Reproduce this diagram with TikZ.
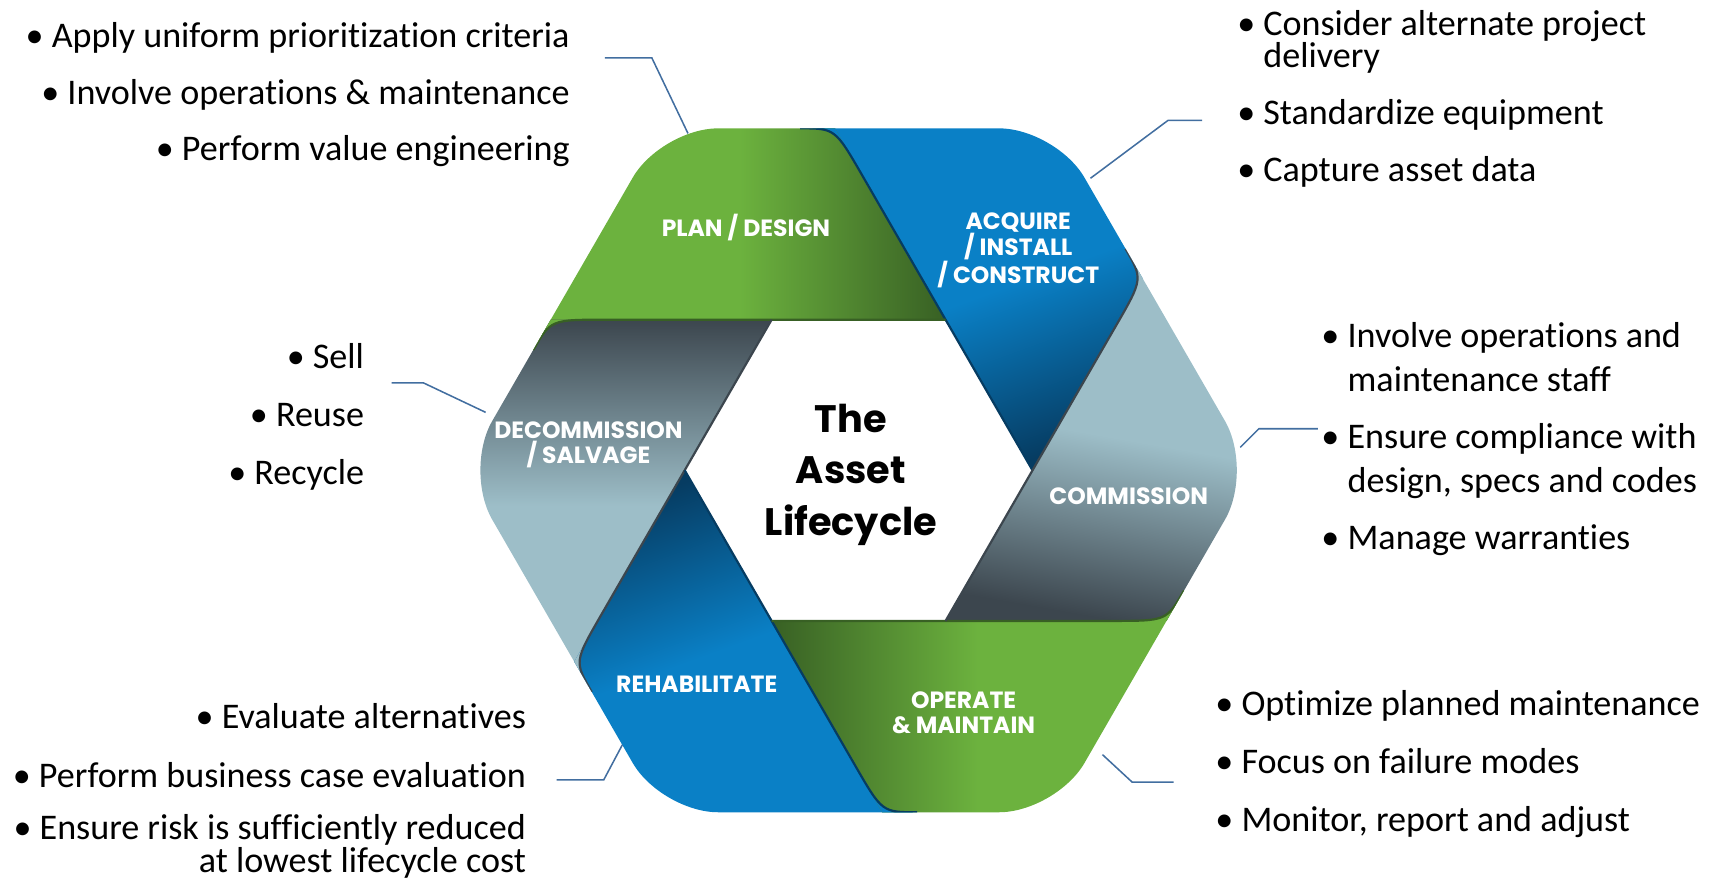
\documentclass[tikz,border=0pt]{standalone}
\usepackage{fontspec}
\setmainfont{Carlito}[Ligatures=NoCommon]
\newfontfamily\segfont{Poppins}
\usetikzlibrary{calc,positioning}
\tikzset{>=latex}
\definecolor{grnL}{RGB}{108,178,62}
\definecolor{grnD}{RGB}{56,96,36}
\definecolor{bluL}{RGB}{10,128,198}
\definecolor{bluD}{RGB}{6,60,98}
\definecolor{gryL}{RGB}{157,190,200}
\definecolor{gryD}{RGB}{60,70,78}
\definecolor{leadblue}{RGB}{66,110,160}
\tikzset{
  bullets/.style={inner sep=0pt, font=\fontsize{33}{40}\selectfont},
  seglabel/.style={text=white, align=center, inner sep=0pt, font=\segfont\bfseries\fontsize{21.5}{23}\selectfont},
  leader/.style={draw=leadblue, line width=1.4pt},
}

\begin{document}
\begin{tikzpicture}[x=1pt,y=1pt]
      \def\R{361}  % outer radius of hexagon
      \def\r{159}  % inner radius
      \pgfmathsetmacro\fr{(\R-\r)/\R}
      \useasboundingbox (0,0) rectangle (1568,805);
      \coordinate (C) at (785,375);
      \foreach \k in {0,...,5} {%
        \coordinate (O\k) at ($(C)+(60*\k:\R)$);
        \coordinate (I\k) at ($(C)+(60*\k:\r)$);
      }
      \foreach \k in {0,...,5} {%
        \pgfmathtruncatemacro\kn{mod(\k+1,6)}
        \coordinate (P\k) at ($(O\k)!\fr!(O\kn)$);
      }
      % ends of the fold where a ribbon laps over the next one
      \foreach \k in {0,...,5} {%
        \pgfmathtruncatemacro\kn{mod(\k+1,6)}
        \pgfmathtruncatemacro\kk{mod(\k+2,6)}
        \coordinate (A\k) at ($(P\kn)!50pt!(I\kn)$);
        \coordinate (B\k) at ($(P\kn)!32pt!(O\kk)$);
      }
      % the six ribbons
      \begin{scope}
        \clip[rounded corners=52pt] (O0) -- (O1) -- (O2) -- (O3) -- (O4) -- (O5) -- cycle;
        \foreach \k/\lc/\dc/\ang in {0/bluL/bluD/-160, 1/grnL/grnD/-90, 2/gryL/gryD/0, 3/bluL/bluD/20, 4/grnL/grnD/90, 5/gryL/gryD/170} {%
          \pgfmathtruncatemacro\kn{mod(\k+1,6)}
          \shade[top color=\dc, bottom color=\lc, middle color=\lc, shading angle=\ang]
            (O\kn) -- (B\k) .. controls (P\kn) .. (A\k) -- (I\k) -- (P\k) -- cycle;
        }
        % folds on top again
        \foreach \k/\lc/\dc/\ang in {0/bluL/bluD/-160, 1/grnL/grnD/-90, 2/gryL/gryD/0, 3/bluL/bluD/20, 4/grnL/grnD/90, 5/gryL/gryD/170} {%
          \pgfmathtruncatemacro\kn{mod(\k+1,6)}
          \begin{scope}
            \clip (B\k) -- (P\kn) -- (A\k) -- cycle;
            \shade[top color=\dc, bottom color=\lc, middle color=\lc, shading angle=\ang]
              (O\kn) -- (B\k) .. controls (P\kn) .. (A\k) -- (I\k) -- (P\k) -- cycle;
          \end{scope}
          \draw[\dc, line width=2pt] (B\k) .. controls (P\kn) .. (A\k) -- (I\k);
        }
      \end{scope}
      %
      \node[seglabel] (plan) at (682,597) {PLAN / DESIGN};
      \node[seglabel] (acq) at (931,576) {ACQUIRE\\/ INSTALL\\/ CONSTRUCT};
      \node[seglabel] (com) at (1032,351) {COMMISSION};
      \node[seglabel] (op) at (881,153) {OPERATE\\\& MAINTAIN};
      \node[seglabel] (reh) at (637,179) {REHABILITATE};
      \node[seglabel] (dec) at (538,398) {DECOMMISSION\\/ SALVAGE};
      \node[align=center, font=\segfont\bfseries\fontsize{35}{47}\selectfont] (title) at (778,371) {The\\Asset\\Lifecycle};
      %
      \node[bullets, anchor=north east, align=right] (plantxt) at (521,785)
        {•\ Apply uniform prioritization criteria\\[12pt] •\ Involve operations \& maintenance\\[12pt] •\ Perform value engineering};
      \node[bullets, anchor=north west, align=left] (acqtxt) at (1131,796)
        {•\ Consider alternate project\\[-10pt] \hphantom{•\ }delivery\\[12pt] •\ Standardize equipment\\[12pt] •\ Capture asset data};
      \node[bullets, anchor=north west, align=left] (comtxt) at (1208,510)
        {•\ Involve operations and\\ \hphantom{•\ }maintenance staff\\[12pt] •\ Ensure compliance with\\ \hphantom{•\ }design, specs and codes\\[12pt] •\ Manage warranties};
      \node[bullets, anchor=north west, align=left] (optxt) at (1111,174)
        {•\ Optimize planned maintenance\\[13pt] •\ Focus on failure modes\\[13pt] •\ Monitor, report and adjust};
      \node[bullets, anchor=north east, align=right] (rehtxt) at (481,162)
        {•\ Evaluate alternatives\\[14pt] •\ Perform business case evaluation\\[7pt] •\ Ensure risk is sufficiently reduced\\[-9pt] at lowest lifecycle cost};
      \node[bullets, anchor=north east, align=right] (dectxt) at (333,491)
        {•\ Sell\\[13pt] •\ Reuse\\[13pt] •\ Recycle};
      %
      \coordinate (planL) at (553,752); \coordinate (planK) at (596,752); \coordinate (planE) at (629,683);
      \coordinate (acqL) at (1099,695); \coordinate (acqK) at (1068,695); \coordinate (acqE) at (997,642);
      \coordinate (comL) at (1205,413); \coordinate (comK) at (1151,413); \coordinate (comE) at (1134,396);
      \coordinate (opL) at (1073,90); \coordinate (opK) at (1035,90); \coordinate (opE) at (1008,115);
      \coordinate (rehL) at (509,92); \coordinate (rehK) at (552,92); \coordinate (rehE) at (569,124);
      \coordinate (decL) at (358,455); \coordinate (decK) at (387,455); \coordinate (decE) at (444,428);
      \foreach \n in {plan,acq,com,op,reh,dec} {%
        \draw[leader] (\n L) -- (\n K) -- (\n E);
      }
    \end{tikzpicture}
\end{document}
